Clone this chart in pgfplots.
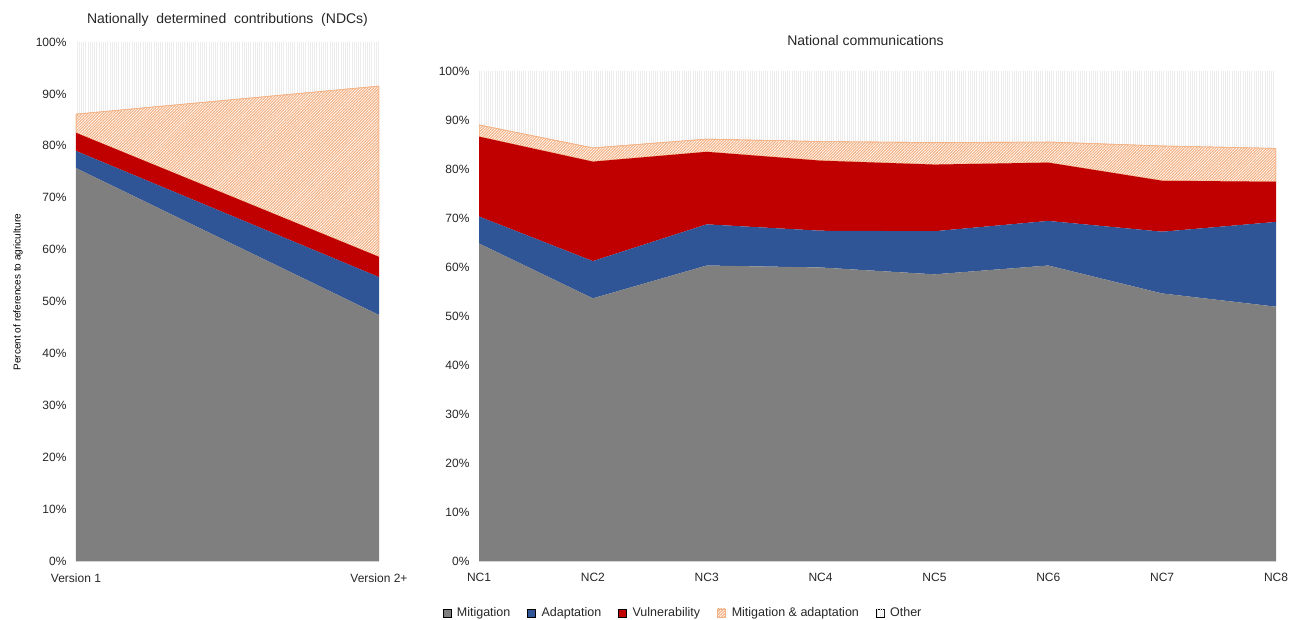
\documentclass[border=0pt]{standalone}
\usepackage{fontspec}
\setmainfont{Liberation Sans}
\usepackage{pgfplots}
\pgfplotsset{compat=1.18}
\usetikzlibrary{patterns.meta}
\definecolor{mit}{HTML}{7F7F7F}
\definecolor{ada}{HTML}{2F5597}
\definecolor{vul}{HTML}{C00000}
\definecolor{ma}{HTML}{F4B183}
\definecolor{oth}{HTML}{ECECEC}
\pgfplotsset{
  base/.style={
    scale only axis, stack plots=y, area style,
    ymin=0, ymax=100, ytick={0,10,...,100},
    yticklabel={\pgfmathprintnumber{\tick}\%},
    /pgf/number format/assume math mode=true,
    axis x line*=bottom, axis y line*=left,
    x axis line style={draw=gray!35, line width=0.8pt},
    y axis line style={draw=none},
    major tick length=0pt, tick style={draw=none},
    tick label style={font=\fontsize{12}{14}\selectfont, text=black!85},
    yticklabel style={xshift=-6pt},
    xticklabel style={yshift=-9pt},
    xtick=data,
    title style={font=\fontsize{14}{16}\selectfont, text=black!85},
  },
  mitst/.style={fill=mit, draw=none},
  adast/.style={fill=ada, draw=none},
  vulst/.style={fill=vul, draw=none},
  mast/.style={draw=ma, line width=0.6pt, fill=white, postaction={pattern={Lines[angle=45,distance=2pt,line width=1.1pt]}, pattern color=ma}},
  othst/.style={draw=none, fill=white, postaction={pattern={Lines[angle=90,distance=2.2pt,line width=0.9pt]}, pattern color=oth}},
}
\begin{document}
\begin{tikzpicture}[x=1pt,y=1pt]
\useasboundingbox (0,0) rectangle (1290,620);
% Left: NDCs
\begin{axis}[base, at={(76pt,59pt)}, anchor=south west, width=303pt, height=519pt,
  xmin=0, xmax=1, xticklabels={Version 1, Version 2+},
  title={Nationally\ \ determined\ \ contributions\ \ (NDCs)},
  title style={at={(0.5,1)}, anchor=south, yshift=6pt},
  ylabel={Percent of references to agriculture},
  ylabel style={font=\fontsize{11}{13}\selectfont, text=black},
  every axis y label/.style={at={(axis description cs:-0.191,0.518)}, rotate=90, anchor=center},
]
\addplot[mitst] coordinates {(0,75.7) (1,47.4)} \closedcycle;
\addplot[adast] coordinates {(0,3.3) (1,7.3)} \closedcycle;
\addplot[vulst] coordinates {(0,3.5) (1,3.9)} \closedcycle;
\addplot[mast] coordinates {(0,3.6) (1,32.9)} \closedcycle;
\addplot[othst] coordinates {(0,13.9) (1,8.5)} \closedcycle;
\end{axis}
% Right: National communications
\begin{axis}[base, at={(479pt,59pt)}, anchor=south west, width=797pt, height=490pt,
  xmin=1, xmax=8, xticklabels={NC1,NC2,NC3,NC4,NC5,NC6,NC7,NC8},
  title={National communications},
  title style={at={(0.485,1)}, anchor=south, yshift=16pt},
  legend columns=5,
  legend style={at={(0.256,-0.106)}, anchor=center, draw=none, fill=none,
    font=\fontsize{12.5}{14}\selectfont, text=black!85,
    /tikz/every even column/.append style={column sep=15pt}},
  legend image code/.code={\draw[#1] (0pt,-4pt) rectangle (8pt,4pt); \path (12pt,0pt);},
]
\addplot[mitst] coordinates {(1,64.8) (2,53.6) (3,60.3) (4,59.9) (5,58.5) (6,60.3) (7,54.6) (8,51.9)} \closedcycle;
\addlegendentry{Mitigation}
\addplot[adast] coordinates {(1,5.5) (2,7.6) (3,8.4) (4,7.5) (5,8.8) (6,9.1) (7,12.6) (8,17.3)} \closedcycle;
\addlegendentry{Adaptation}
\addplot[vulst] coordinates {(1,16.3) (2,20.3) (3,14.8) (4,14.3) (5,13.6) (6,11.9) (7,10.4) (8,8.2)} \closedcycle;
\addlegendentry{Vulnerability}
\addplot[mast] coordinates {(1,2.4) (2,2.8) (3,2.6) (4,3.9) (5,4.5) (6,4.2) (7,7.1) (8,6.8)} \closedcycle;
\addlegendentry{Mitigation \& adaptation}
\addplot[othst] coordinates {(1,11.0) (2,15.7) (3,13.9) (4,14.4) (5,14.6) (6,14.5) (7,15.3) (8,15.8)} \closedcycle;
\addlegendentry{Other}
\end{axis}
\end{tikzpicture}
\end{document}
